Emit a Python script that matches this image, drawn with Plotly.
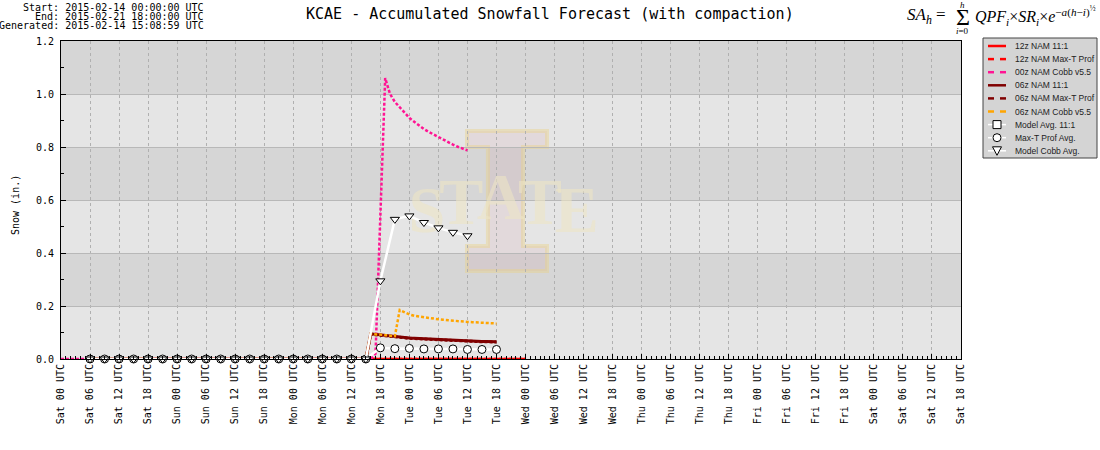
import plotly.graph_objects as go

# ---------------- data (forecast hour since 2015-02-14 00 UTC) ----------------
DAYS = ["Sat", "Sun", "Mon", "Tue", "Wed", "Thu", "Fri", "Sat"]
HOUR_LABELS = ["00", "06", "12", "18"]
TICK_HOURS = list(range(0, 187, 6))
TICK_TEXT = [f"{DAYS[h // 24]} {HOUR_LABELS[(h % 24) // 6]} UTC" for h in TICK_HOURS]

# 12z NAM (hours 12..96) - all zero
HOURS_12Z = list(range(12, 97))
NAM12_11 = [0.0] * 85
NAM12_MAXT = [0.0] * 85

# 00z NAM Cobb v5.5 (hours 0..84)
HOURS_00Z = list(range(0, 85))
NAM00_COBB = [0.0] * 65 + [0.02, 0.57, 1.06, 1.00, 0.97, 0.95, 0.93, 0.91, 0.895, 0.88,
                           0.868, 0.857, 0.847, 0.836, 0.826, 0.817, 0.809, 0.801, 0.794, 0.787]

# 06z NAM (hours 6..90)
HOURS_06Z = list(range(6, 91))
NAM06_11 = [0.0] * 58 + [0.095, 0.093, 0.090, 0.088, 0.086, 0.083, 0.082, 0.081, 0.079,
                         0.078, 0.077, 0.076, 0.075, 0.074, 0.073, 0.072, 0.071, 0.070,
                         0.069, 0.069, 0.068, 0.067, 0.067, 0.066, 0.066, 0.065, 0.065]
NAM06_MAXT = [0.0] * 58 + [0.093, 0.091, 0.089, 0.087, 0.085, 0.082, 0.081, 0.080, 0.078,
                           0.077, 0.076, 0.075, 0.074, 0.073, 0.072, 0.071, 0.070, 0.069,
                           0.068, 0.068, 0.067, 0.066, 0.066, 0.065, 0.065, 0.064, 0.064]
NAM06_COBB = [0.0] * 58 + [0.095, 0.094, 0.092, 0.090, 0.088, 0.086, 0.185, 0.175, 0.168,
                           0.163, 0.160, 0.157, 0.155, 0.152, 0.150, 0.148, 0.146, 0.145,
                           0.143, 0.142, 0.140, 0.139, 0.138, 0.137, 0.136, 0.135, 0.134]

# model averages (every 3 h)
AVG_HOURS_COBB = list(range(6, 85, 3))
AVG_COBB = [0.0] * 20 + [0.295, 0.527, 0.540, 0.515, 0.495, 0.478, 0.465]
AVG_HOURS_MAXT = list(range(6, 91, 3))
AVG_MAXT = [0.0] * 20 + [0.042, 0.039, 0.040, 0.038, 0.038, 0.038, 0.036, 0.036, 0.036]

LEGEND_LABELS = ["12z NAM 11:1", "12z NAM Max-T Prof", "00z NAM Cobb v5.5",
                 "06z NAM 11:1", "06z NAM Max-T Prof", "06z NAM Cobb v5.5",
                 "Model Avg. 11:1", "Max-T Prof Avg.", "Model Cobb Avg."]

# ---------------- layout helpers ----------------
L, T, W, H = 61, 41, 900, 318
def PX(px):
    return (px - L) / W
def PY(py):
    return (T + H - py) / H

MONO = "DejaVu Sans Mono"
RED, PINK, MAROON, ORANGE = "#ff0000", "#ff1493", "#800000", "#ffa500"

fig = go.Figure()

# watermark text (drawn beneath data)
WM_X = [75.6, 82.7, 90.9, 99.0, 106.6]
WM_Y = [0.543, 0.570, 0.589, 0.570, 0.543]
WM_T = ["<b>S</b>", "<b>T</b>", "<b>A</b>", "<b>T</b>", "<b>E</b>"]
fig.add_trace(go.Scatter(x=WM_X, y=WM_Y, mode="text", text=WM_T, hoverinfo="skip",
                         showlegend=False,
                         textfont=dict(family="Liberation Serif", size=66,
                                       color="rgba(236,228,196,0.6)")))

def line(x, y, color, dash="solid", width=2.5):
    fig.add_trace(go.Scatter(x=x, y=y, mode="lines", showlegend=False, hoverinfo="skip",
                             line=dict(color=color, dash=dash, width=width)))

line(HOURS_12Z, NAM12_11, RED)
line(HOURS_12Z, NAM12_MAXT, RED, "3px,2px")
line(HOURS_00Z, NAM00_COBB, PINK, "3px,2px")
line(HOURS_06Z, NAM06_11, MAROON, width=3)
line(HOURS_06Z, NAM06_MAXT, MAROON, "3px,2px", width=3)
line(HOURS_06Z, NAM06_COBB, ORANGE, "3px,2px")

fig.add_trace(go.Scatter(x=AVG_HOURS_MAXT, y=AVG_MAXT, mode="lines+markers", showlegend=False,
                         hoverinfo="skip", cliponaxis=False,
                         line=dict(color="white", width=2.5),
                         marker=dict(symbol="circle", size=8, color="white",
                                     line=dict(color="black", width=1))))
fig.add_trace(go.Scatter(x=AVG_HOURS_COBB, y=AVG_COBB, mode="lines+markers", showlegend=False,
                         hoverinfo="skip", cliponaxis=False,
                         line=dict(color="white", width=2.5),
                         marker=dict(symbol="triangle-down", size=8, color="white",
                                     line=dict(color="black", width=1))))

# ---------------- shapes ----------------
shapes = []
for lo in (0.2, 0.6, 1.0):
    shapes.append(dict(type="rect", xref="paper", yref="y", x0=0, x1=1, y0=lo, y1=lo + 0.2,
                       fillcolor="#d6d6d6", line=dict(width=0), layer="below"))

# "I" logo watermark
I_PTS = [(467, 131), (547, 131), (547, 147), (523, 147), (523, 246), (547, 246), (547, 271),
         (467, 271), (467, 246), (488, 246), (488, 147), (467, 147)]
path = "M " + " L ".join(f"{PX(a):.4f},{PY(b):.4f}" for a, b in I_PTS) + " Z"
shapes.append(dict(type="path", xref="paper", yref="paper", path=path,
                   fillcolor="rgba(190,30,60,0.06)",
                   line=dict(color="rgba(235,210,130,0.4)", width=4), layer="below"))

# custom legend
LX0, LX1, LY0, LY1 = 983, 1097, 38, 158
shapes.append(dict(type="rect", xref="paper", yref="paper", x0=PX(LX0), x1=PX(LX1),
                   y0=PY(LY1), y1=PY(LY0), fillcolor="#d4d4d4",
                   line=dict(color="#444444", width=1), layer="above"))
row_y = [46 + 13.1 * i for i in range(9)]
styles = [(RED, "solid"), (RED, "dash"), (PINK, "dash"), (MAROON, "solid"),
          (MAROON, "dash"), (ORANGE, "dash")]
for (c, d), ry in zip(styles, row_y[:6]):
    if d == "solid":
        shapes.append(dict(type="line", xref="paper", yref="paper", x0=PX(988), x1=PX(1006),
                           y0=PY(ry), y1=PY(ry), line=dict(color=c, width=2.5), layer="above"))
    else:
        for a, b in ((988, 994), (1000, 1006)):
            shapes.append(dict(type="line", xref="paper", yref="paper", x0=PX(a), x1=PX(b),
                               y0=PY(ry), y1=PY(ry), line=dict(color=c, width=2.5),
                               layer="above"))
for i, ry in enumerate(row_y[6:]):
    shapes.append(dict(type="line", xref="paper", yref="paper", x0=PX(988), x1=PX(1006),
                       y0=PY(ry), y1=PY(ry), line=dict(color="white", width=1.5),
                       layer="above"))
    cx = 997
    if i == 0:
        shapes.append(dict(type="rect", xref="paper", yref="paper", x0=PX(cx - 4),
                           x1=PX(cx + 4), y0=PY(ry + 4), y1=PY(ry - 4), fillcolor="white",
                           line=dict(color="black", width=1), layer="above"))
    elif i == 1:
        shapes.append(dict(type="circle", xref="paper", yref="paper", x0=PX(cx - 4),
                           x1=PX(cx + 4), y0=PY(ry + 4), y1=PY(ry - 4), fillcolor="white",
                           line=dict(color="black", width=1), layer="above"))
    else:
        p = (f"M {PX(cx-4.5):.4f},{PY(ry-4):.4f} L {PX(cx+4.5):.4f},{PY(ry-4):.4f} "
             f"L {PX(cx):.4f},{PY(ry+4.5):.4f} Z")
        shapes.append(dict(type="path", xref="paper", yref="paper", path=p,
                           fillcolor="white", line=dict(color="black", width=1),
                           layer="above"))

# ---------------- annotations ----------------
ann = []
def text(px, py, s, size=10, family=MONO, xanchor="left", angle=0, color="black"):
    ann.append(dict(xref="paper", yref="paper", x=PX(px), y=PY(py), text=s, showarrow=False,
                    xanchor=xanchor, yanchor="middle", textangle=angle,
                    font=dict(family=family, size=size, color=color)))

for lbl, ry in zip(LEGEND_LABELS, row_y):
    text(1013, ry, lbl, size=8.5, family="Liberation Sans", color="#222222")

text(206, 7, "Start: 2015-02-14 00:00:00 UTC", xanchor="right")
text(206, 16.5, "End: 2015-02-21 18:00:00 UTC", xanchor="right")
text(206, 26, "Generated: 2015-02-14 15:08:59 UTC", xanchor="right")
text(550, 14, "KCAE - Accumulated Snowfall Forecast (with compaction)", size=15,
     xanchor="center")
text(15, 205, "Snow (in.)", angle=-90, xanchor="center")

SERIF = "Liberation Serif"
text(905, 16, "<i>SA<sub>h</sub></i> =", size=17, family=SERIF)
text(963, 17, "Σ", size=24, family=SERIF, xanchor="center")
text(963, 5, "<i>h</i>", size=9, family=SERIF, xanchor="center")
text(963, 31, "<i>i</i>=0", size=9, family=SERIF, xanchor="center")
text(973, 16, "<i>QPF<sub>i</sub></i>×<i>SR<sub>i</sub></i>×<i>e</i>"
              "<sup>−<i>a</i>(<i>h</i>−<i>i</i>)<sup>½</sup></sup>", size=16, family=SERIF)

fig.update_layout(
    width=1100, height=450,
    margin=dict(l=L, r=1100 - L - W, t=T, b=450 - T - H),
    paper_bgcolor="white", plot_bgcolor="#e5e5e5",
    showlegend=False, shapes=shapes, annotations=ann, hovermode=False,
    xaxis=dict(range=[0, 186], tickvals=TICK_HOURS, ticktext=TICK_TEXT, tickangle=-90,
               ticks="inside", ticklen=5, tickcolor="black", showline=True,
               linecolor="black", linewidth=1, mirror=True, showgrid=True,
               gridcolor="#b0b0b0", griddash="3px,3px", gridwidth=1, zeroline=False,
               tickfont=dict(family=MONO, size=10, color="black"), layer="above traces",
               minor=dict(dtick=1, tick0=0, ticks="inside", ticklen=3, tickcolor="black",
                          showgrid=False)),
    yaxis=dict(range=[0, 1.2], tickvals=[0, 0.2, 0.4, 0.6, 0.8, 1.0, 1.2], tickformat=".1f",
               ticks="inside", ticklen=5, tickcolor="black", showline=True,
               linecolor="black", linewidth=1, mirror=True, showgrid=True,
               gridcolor="#b8b8b8", gridwidth=1, zeroline=False, ticklabelstandoff=4,
               tickfont=dict(family=MONO, size=10, color="black"), layer="above traces",
               minor=dict(dtick=0.1, tick0=0, ticks="inside", ticklen=3, tickcolor="black",
                          showgrid=False)),
)

fig.write_html("out.html", config={"displayModeBar": False, "staticPlot": True},
               post_script="document.body.style.margin='0px';")
